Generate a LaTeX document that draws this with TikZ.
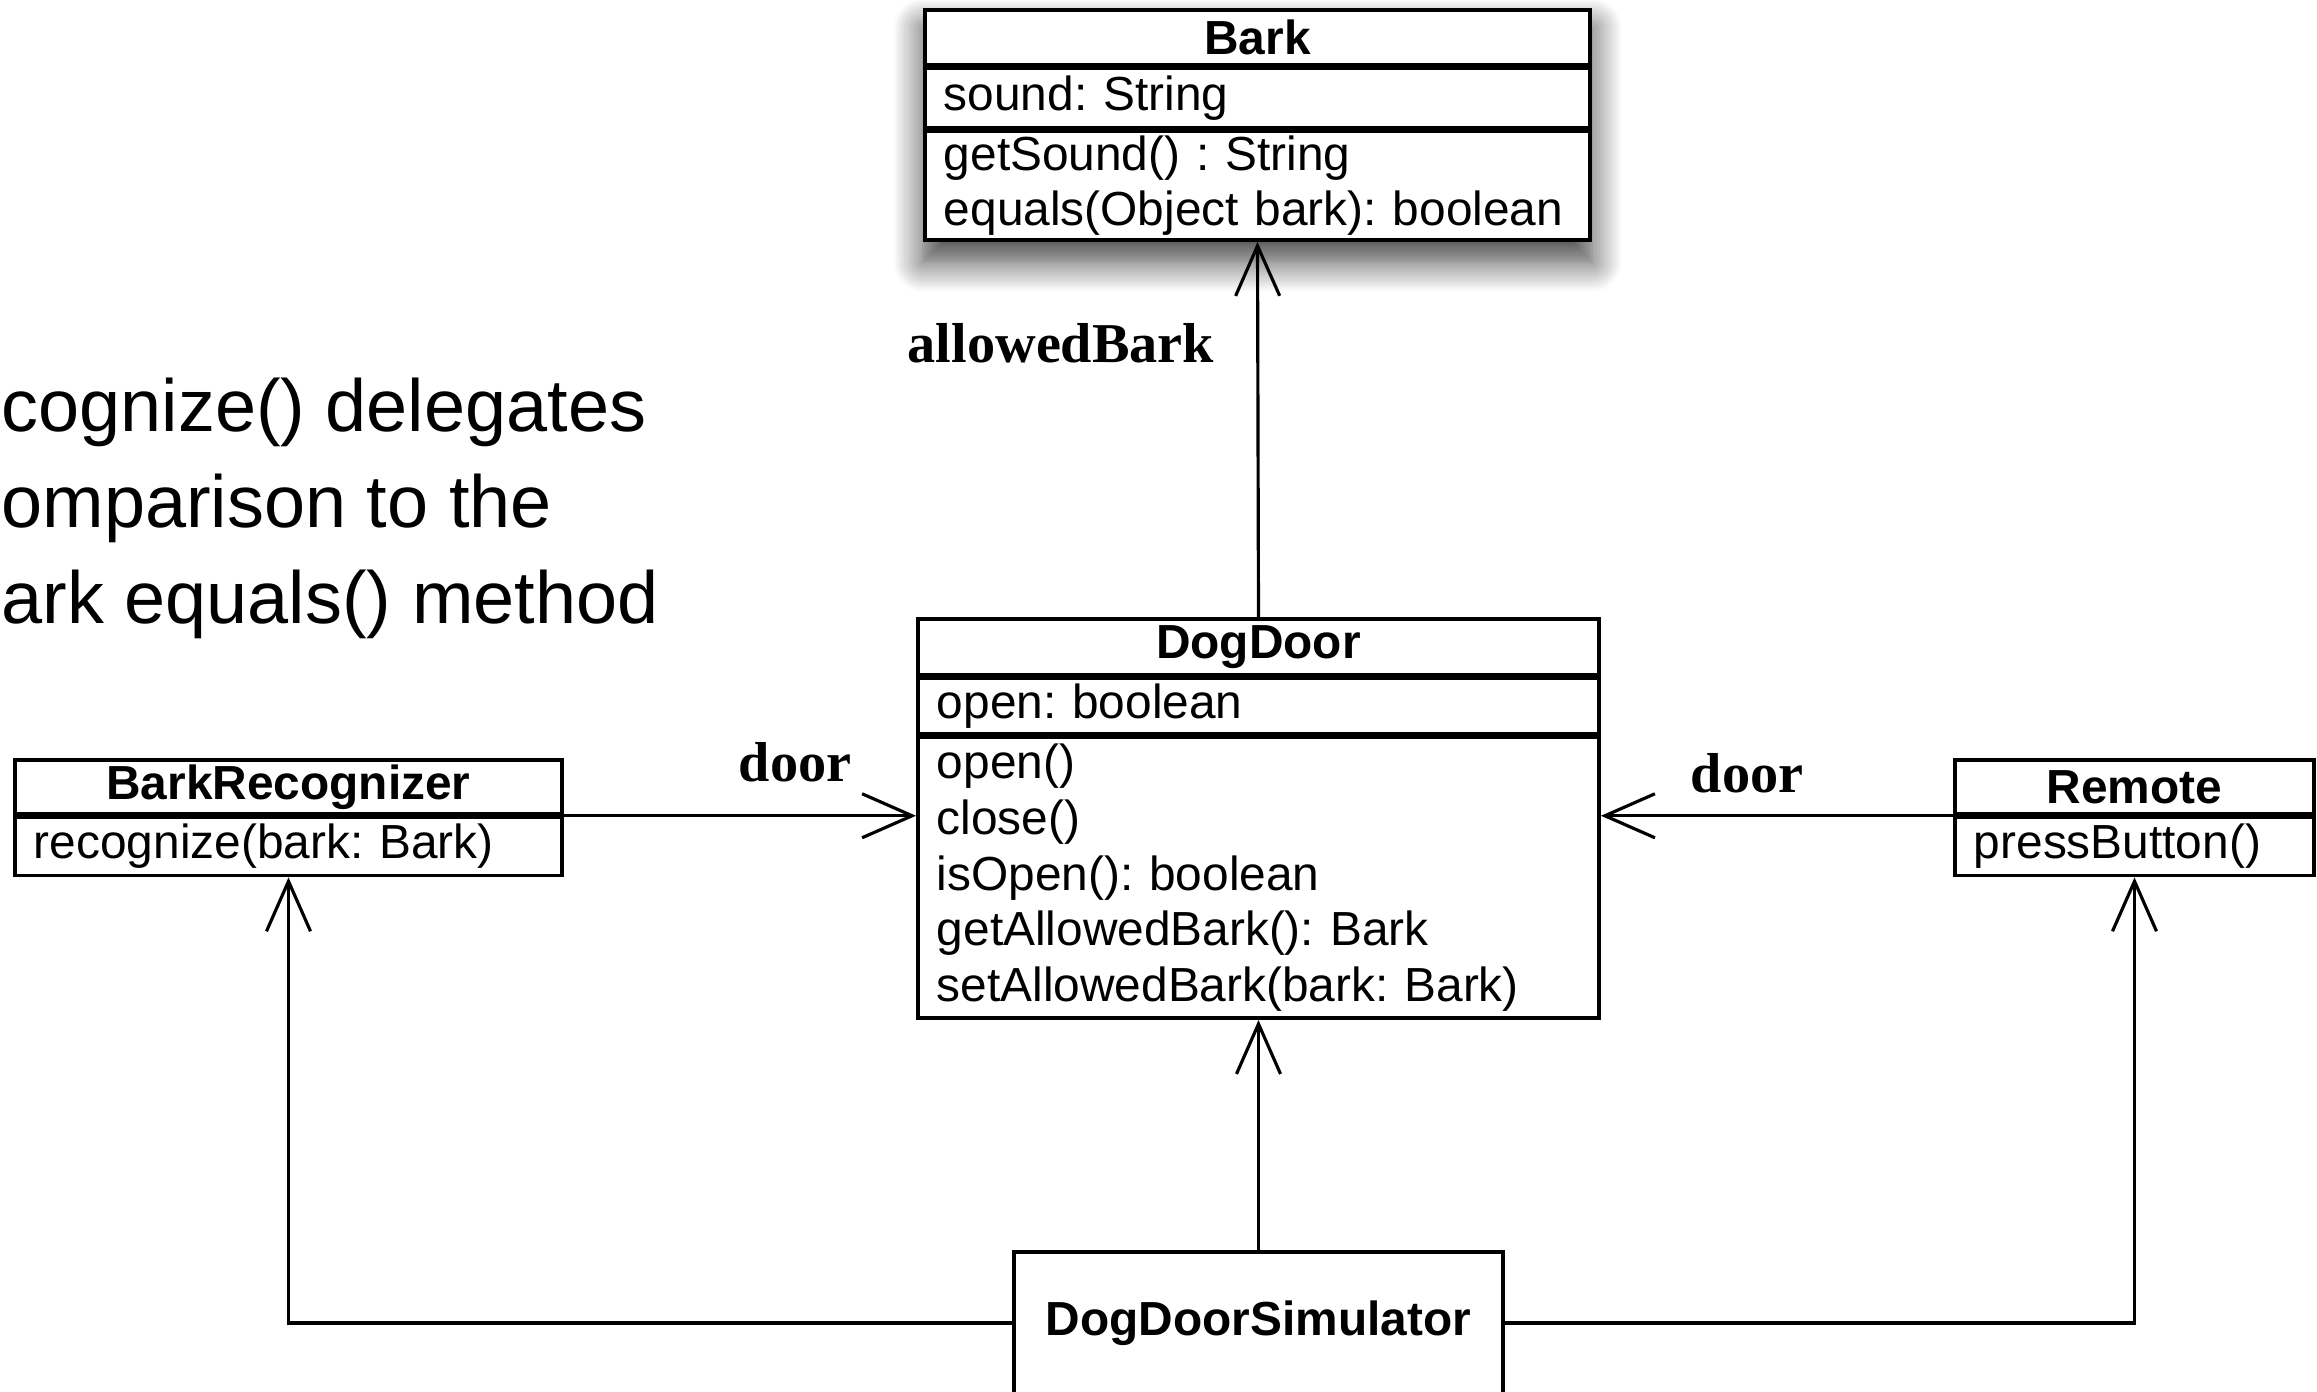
\documentclass[tikz,border=0pt]{standalone}
\usepackage{fontspec}
\setmainfont{Liberation Sans}
\newfontfamily\rolefont{Liberation Serif}
\usetikzlibrary{positioning,arrows.meta,shadows.blur,backgrounds}

\newcommand{\boxfont}{\fontsize{13.6}{15.9}\selectfont}
\frenchspacing

\begin{document}
\begin{tikzpicture}[
    x=0.01cm, y=-0.01cm,
    cls/.style={draw, line width=1pt, fill=white, inner xsep=0.19cm,
                inner ysep=0pt, align=left, font=\boxfont},
    hdr/.style={cls, align=center, font=\boxfont\bfseries},
    assoc/.style={line width=0.9pt,
                  -{Straight Barb[length=0.5cm, width=0.44cm, line width=0.9pt]}},
    role/.style={font=\rolefont\bfseries\fontsize{16}{18}\selectfont, inner sep=0pt}
]

% One unit is one pixel of the 2317 x 1392 page, y runs downwards.
\useasboundingbox (0,0) rectangle (2317,1392);
\clip (0,0) rectangle (2317,1392);

% ---------- Bark ----------
\node[hdr, text width=6.27cm, minimum height=0.55cm] (bark) at (1257.5,37.5) {Bark};
\node[cls, text width=6.27cm, minimum height=0.59cm, below=0pt of bark] (barka)
      {sound: String};
\node[cls, text width=6.27cm, minimum height=1.09cm, below=0pt of barka] (barkm)
      {getSound() : String\\equals(Object bark): boolean};

\begin{scope}[on background layer]
  \fill[white, blur shadow={shadow xshift=0pt, shadow yshift=-0.2cm,
        shadow blur radius=0.3cm, shadow blur steps=14, shadow opacity=75}]
       (bark.north west) rectangle (barkm.south east);
\end{scope}

% ---------- DogDoor ----------
\node[hdr, text width=6.43cm, minimum height=0.56cm] (door) at (1258.5,647) {DogDoor};
\node[cls, text width=6.43cm, minimum height=0.55cm, below=0pt of door] (doora)
      {open: boolean};
\node[cls, text width=6.43cm, minimum height=2.81cm, below=0pt of doora] (doorm)
      {open()\\close()\\isOpen(): boolean\\getAllowedBark(): Bark\\setAllowedBark(bark: Bark)};

% ---------- BarkRecognizer and Remote ----------
\node[hdr, text width=5.09cm, minimum height=0.54cm] (recog) at (288.5,787) {BarkRecognizer};
\node[cls, text width=5.09cm, minimum height=0.58cm, below=0pt of recog] (recogm)
      {recognize(bark: Bark)};

\node[hdr, text width=3.21cm, minimum height=0.54cm] (remote) at (2134.5,787) {Remote};
\node[cls, text width=3.21cm, minimum height=0.58cm, below=0pt of remote] (remotem)
      {pressButton()};

% ---------- DogDoorSimulator ----------
\node[hdr, text width=4.51cm, minimum height=1.42cm] (sim) at (1258.5,1323) {DogDoorSimulator};

% ---------- associations ----------
\draw[assoc] (door.north) -- (barkm.south);
\draw[assoc] (recog.south east) -- (recog.south east -| doorm.west);
\draw[assoc] (remote.south west) -- (remote.south west -| doorm.east);
\draw[assoc] (sim.north) -- (doorm.south);
\draw[assoc] (sim.west) -| (recogm.south);
\draw[assoc] (sim.east) -| (remotem.south);

\node[role] (lblbark)  at (1061,343) {allowedBark};
\node[role] (lbldoorl) at (795,762)  {door};
\node[role] (lbldoorr) at (1747,773) {door};

% ---------- note ----------
\node[font=\fontsize{21}{27.3}\selectfont, align=left, inner sep=0pt,
      anchor=north west] (note) at (1,377)
      {cognize() delegates\\omparison to the\\ark equals() method};

\end{tikzpicture}
\end{document}
